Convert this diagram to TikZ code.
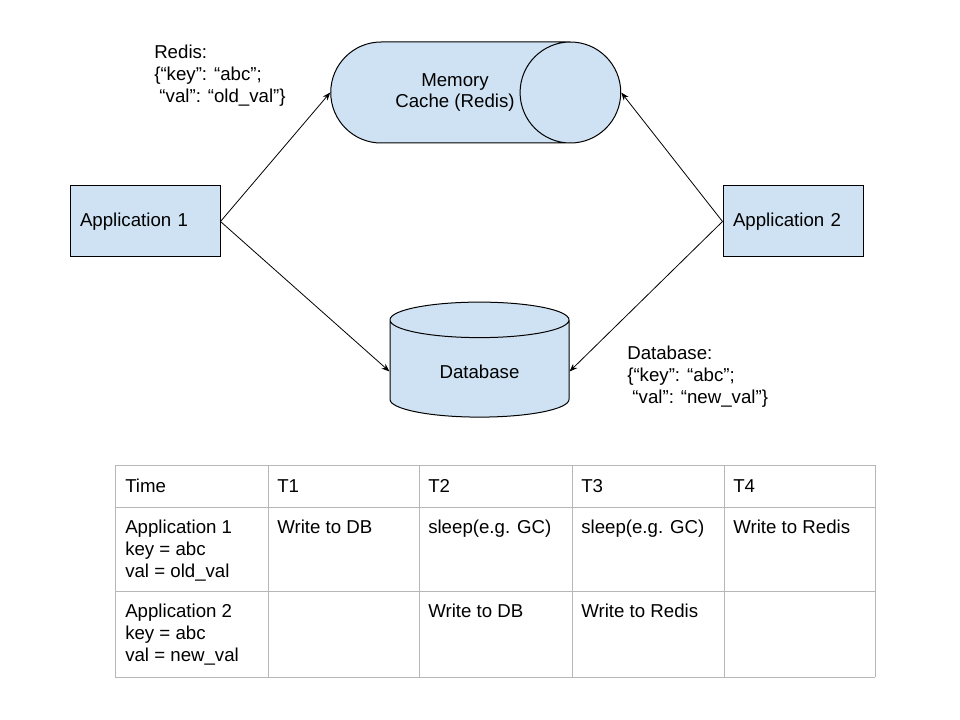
\documentclass[tikz,border=0pt]{standalone}
\usepackage{fontspec}
\setmainfont{Liberation Sans}
\usetikzlibrary{arrows.meta,shapes.geometric}

\definecolor{boxblue}{HTML}{CFE2F3}
\definecolor{gridgray}{HTML}{B7B7B7}

\tikzset{
  appbox/.style={draw, fill=boxblue, line width=0.75pt, align=left,
    inner xsep=7.5pt, minimum height=53.25pt},
  store/.style={cylinder, draw, fill=boxblue, line width=0.75pt, align=center},
  note/.style={anchor=north west, inner sep=0pt, align=left},
  cell/.style={anchor=north west, inner sep=0pt, align=left},
  link/.style={line width=0.6pt, -{Stealth[length=6pt,width=4.5pt]}}
}

\begin{document}
\begin{tikzpicture}[x=0.75pt,y=-0.75pt,font=\fontsize{14}{16.25}\selectfont]
  \useasboundingbox (0,0) rectangle (960,720);

  % stores
  \node (cache) [store, minimum width=75.75pt, minimum height=217.5pt, aspect=2.13] at (440,92.5)
    {\hspace*{22.5pt}Memory\\\hspace*{22.5pt}Cache (Redis)};
  \node (db) [store, shape border rotate=90, minimum width=134.25pt, minimum height=86.25pt, aspect=0.4] at (479.5,371.5) {Database};

  % applications
  \node (app1) [appbox, text width=97.5pt] at (145,221.5) {Application 1};
  \node (app2) [appbox, text width=90pt] at (793,221.5) {Application 2};

  \draw[link] (app1.east) -- (cache.west);
  \draw[link] (app1.east) -- (db.west);
  \draw[link] (app2.west) -- (cache.east);
  \draw[link] (app2.west) -- (db.east);

  % stored values
  \node (redisval) [note] at (154,45) {Redis:\\\{“key”: “abc”;\\\hspace*{3.9pt}“val”: “old\_val”\}};
  \node (dbval) [note] at (627,346) {Database:\\\{“key”: “abc”;\\\hspace*{3.9pt}“val”: “new\_val”\}};

  % timeline table
  \foreach \x in {115,268,419,572,724,875}
    \draw[gridgray, line width=0.75pt] (\x,465) -- (\x,677);
  \foreach \y in {465,507,591,677}
    \draw[gridgray, line width=0.75pt] (115,\y) -- (875,\y);

  \node (time) [cell] at (125,479) {Time};
  \node (t1) [cell] at (277,479) {T1};
  \node (t2) [cell] at (428,479) {T2};
  \node (t3) [cell] at (581,479) {T3};
  \node (t4) [cell] at (733,479) {T4};

  \node (row1) [cell] at (125,520) {Application 1\\key = abc\\val = old\_val};
  \node (a1t1) [cell] at (277,520) {Write to DB};
  \node (a1t2) [cell] at (428,520) {sleep(e.g. GC)};
  \node (a1t3) [cell] at (581,520) {sleep(e.g. GC)};
  \node (a1t4) [cell] at (733,520) {Write to Redis};

  \node (row2) [cell] at (125,604) {Application 2\\key = abc\\val = new\_val};
  \node (a2t2) [cell] at (428,604) {Write to DB};
  \node (a2t3) [cell] at (581,604) {Write to Redis};
\end{tikzpicture}
\end{document}
